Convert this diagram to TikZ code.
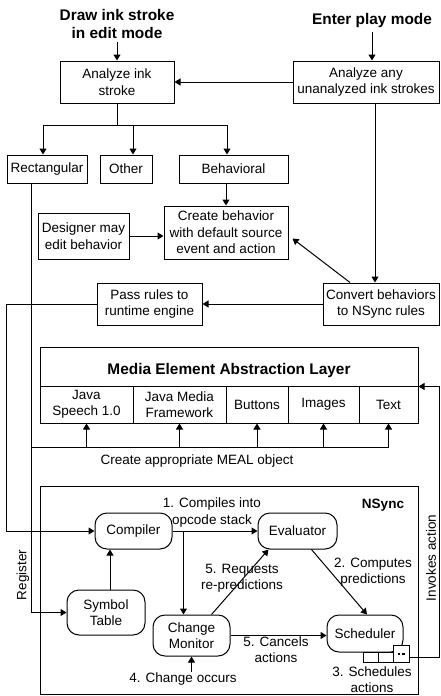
\documentclass[tikz,border=0pt]{standalone}
\usepackage{fontspec}
\setmainfont{Liberation Sans}
\usetikzlibrary{arrows.meta}
\tikzset{box/.style={draw, rectangle, align=center, inner sep=1pt}}
\tikzset{proc/.style={draw, rectangle, rounded corners=12pt, align=center, inner sep=1pt}}
\tikzset{arr/.style={-{Triangle[length=6pt,width=7pt]}}}
\tikzset{title/.style={align=center, font=\fontsize{15.4}{18}\selectfont\bfseries}}
\tikzset{note/.style={align=center, inner sep=0pt}}

\begin{document}
\begin{tikzpicture}[x=1pt, y=-1pt, line width=1pt, font=\fontsize{13.5}{16.5}\selectfont]
\useasboundingbox (0,0) rectangle (440,696);

% editing side
\node[title] (edit) at (117,24) {Draw ink stroke\\in edit mode};
\node[title] (play) at (372,21) {Enter play mode};
\node[box, minimum width=114, minimum height=42] (ana) at (117,82) {Analyze ink\\stroke};
\node[box, minimum width=146, minimum height=42] (anaall) at (366,82) {Analyze any\\unanalyzed ink strokes};
\node[box, minimum width=80, minimum height=28] (rect) at (47,169) {Rectangular};
\node[box, minimum width=52, minimum height=28] (other) at (126,169) {Other};
\node[box, minimum width=109, minimum height=28] (behav) at (233.5,169) {Behavioral};
\node[box, minimum width=124, minimum height=53] (create) at (226,232.5) {Create behavior\\with default source\\event and action};
\node[box, minimum width=91, minimum height=46] (designer) at (83.5,236) {Designer may\\edit behavior};
\node[box, minimum width=116, minimum height=42] (convert) at (381,304) {Convert behaviors\\to NSync rules};
\node[box, minimum width=105, minimum height=42] (pass) at (149.5,304) {Pass rules to\\runtime engine};

\draw[arr] (edit) -- (ana);
\draw[arr] (play.south) -- (play.south |- anaall.north);
\draw[arr] (anaall) -- (ana);
\coordinate (split) at (117,125);
\draw (ana) -- (split);
\draw[arr] (split) -| ([xshift=-4pt]rect.north);
\draw[arr] (split) -| ([xshift=7pt]other.north);
\draw[arr] (split) -| ([xshift=-6.5pt]behav.north);
\draw[arr] (create.north |- behav.south) -- (create.north);
\draw[arr] (designer) -- (designer -| create.west);
\draw[arr] ([xshift=9pt]anaall.south) -- ([xshift=9pt]anaall.south |- convert.north);
\draw[arr] ([xshift=-31pt]convert.north) -- ([xshift=4pt,yshift=-6pt]create.east);
\draw[arr] (convert) -- (pass);

% MEAL
\node[box, minimum width=378, minimum height=39, text height=18pt, text depth=2pt, font=\fontsize{15.4}{18}\selectfont\bfseries] (meal) at (229,366.5) {Media Element Abstraction Layer};
\node[box, minimum width=93, minimum height=37] (speech) at (86.5,404.5) {Java\\Speech 1.0};
\node[box, minimum width=93, minimum height=37] (jmf) at (179.5,404.5) {Java Media\\Framework};
\node[box, minimum width=62, minimum height=37] (btn) at (257,404.5) {Buttons};
\node[box, minimum width=71, minimum height=37] (img) at (323.5,404.5) {Images};
\node[box, minimum width=59, minimum height=37] (txt) at (388.5,404.5) {Text};
\node (mealobj) at (197,461) {Create appropriate MEAL object};

\coordinate (bus) at (31,447);
\draw (bus) -- (bus -| txt);
\foreach \c in {speech,jmf,btn,img,txt}
  \draw[arr] (bus -| \c) -- (\c.south);

% NSync
\node[draw, minimum width=378, minimum height=208] (nsync) at (229,590) {};
\node[font=\fontsize{13.5}{16}\selectfont\bfseries] (nsynclbl) at (383,505) {NSync};
\node[proc, minimum width=77, minimum height=36] (compiler) at (133.5,531) {Compiler};
\node[proc, minimum width=79, minimum height=36] (evaluator) at (297.5,531) {Evaluator};
\node[proc, minimum width=78, minimum height=45] (symtab) at (106,612.5) {Symbol\\Table};
\node[proc, minimum width=77, minimum height=41] (monitor) at (191.5,635.5) {Change\\Monitor};
\node[proc, minimum width=76, minimum height=37] (sched) at (365,633.5) {Scheduler};
\node[box, minimum width=15, minimum height=10, inner sep=0pt] (q1) at (370.5,657) {};
\node[box, minimum width=15, minimum height=10, inner sep=0pt] (q2) at (385.5,657) {};
\node[box, fill=white, minimum width=16, minimum height=17, inner sep=0pt] (q3) at (401,653.5)
  {\raisebox{-3pt}{\rule{2.5pt}{2.5pt}\hspace{2pt}\rule{2.5pt}{2.5pt}}};

\node[note] (compiles) at (212,512.5) {1. Compiles into\\opcode stack};
\node[note] (requests) at (242,578) {5. Requests\\re-predictions};
\node[note] (computes) at (373,572) {2. Computes\\predictions};
\node[note] (cancels) at (276,649.5) {5. Cancels\\actions};
\node[note] (schedules) at (372,679.5) {3. Schedules\\actions};
\node[note] (occurs) at (183,679) {4. Change occurs};
\node[note, rotate=90] (register) at (23,575) {Register};
\node[note, rotate=90] (invokes) at (431,558) {Invokes action};

\draw[arr] (pass.west) -- ++(-90,0) |- (compiler);
\draw[arr] ([xshift=-16pt]rect.south) |- (symtab);
\draw[arr] (compiler) -- (evaluator);
\coordinate (fork) at ([xshift=11pt]compiler.east);
\draw[arr] (fork) -- (fork |- monitor.north);
\draw[arr] ([xshift=20pt]monitor.north) -- ([xshift=-29pt]evaluator.south);
\draw[arr] ([xshift=14pt]evaluator.south) -- ([xshift=2pt]sched.north);
\draw[arr] (monitor) -- (monitor -| sched.west);
\draw[arr] ([xshift=4pt]symtab.north) -- ([xshift=4pt]symtab.north |- compiler.south);
\draw[arr] (occurs.north -| monitor) -- (monitor.south);
\draw[arr] ([yshift=-4pt]q3.east) -- ++(30,0) |- (meal.south east);
\end{tikzpicture}
\end{document}
